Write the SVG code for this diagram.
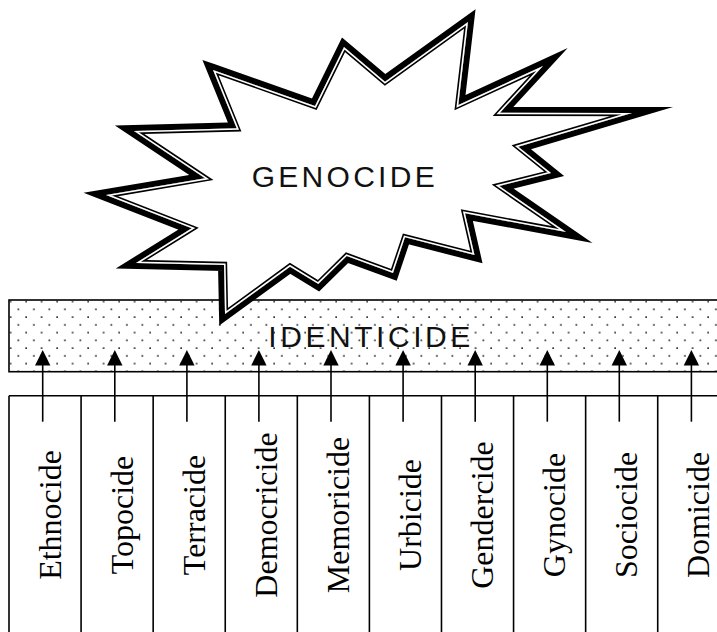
<svg xmlns="http://www.w3.org/2000/svg" xmlns:xlink="http://www.w3.org/1999/xlink" width="717" height="632" viewBox="0 0 717 632">
  <style>
    .frame { fill: none; stroke: #000; stroke-width: 1.6; }
    .arrow { stroke: #000; stroke-width: 1.6; fill: none; }
    .head { fill: #000; }
    .lbl { font-family: "Liberation Serif", "Times New Roman", serif; font-size: 32px; fill: #000; text-anchor: middle; }
    .big { font-family: "Liberation Sans", Arial, sans-serif; font-size: 30px; fill: #111; }
  </style>
  <defs>
    <pattern id="dots" patternUnits="userSpaceOnUse" x="-1.1" y="10.9" width="15.5" height="15.5">
      <rect x="3.2" y="3.2" width="1.6" height="1.6" fill="#222"/>
      <rect x="10.95" y="10.95" width="1.6" height="1.6" fill="#222"/>
    </pattern>
    <polygon id="starP" points="213,70 315,106 344,47 385,81.7 468,22 458.3,105 543,66 500,112.7 632,113 518.3,146.7 551,173 499.3,186 566,232 465,213.3 474.5,255 405,237.3 393,273 346.7,256 318.3,284 290,266.7 225,314 224,265 136,263 191.7,228.3 106,195 205,178.3 134,131 236.7,128.3"/>
    <clipPath id="starClip"><use xlink:href="#starP"/></clipPath>
  </defs>

  <g id="identicide">
    <rect x="9" y="300" width="720" height="71.7" fill="url(#dots)" stroke="#000" stroke-width="1.6"/>
    <text class="big" x="268.3" y="346.5" textLength="202" lengthAdjust="spacing">IDENTICIDE</text>
  </g>

  <g id="genocide">
    <use xlink:href="#starP" fill="#fff" stroke="#000" stroke-width="12" stroke-linejoin="miter" stroke-miterlimit="40"/>
    <use xlink:href="#starP" fill="#fff" stroke="none"/>
    <g clip-path="url(#starClip)">
      <use xlink:href="#starP" fill="none" stroke="#000" stroke-width="6.4" stroke-linejoin="miter" stroke-miterlimit="40"/>
      <use xlink:href="#starP" fill="none" stroke="#fff" stroke-width="3.2" stroke-linejoin="miter" stroke-miterlimit="40"/>
    </g>
    <text class="big" x="251.7" y="186.5" textLength="183" lengthAdjust="spacing">GENOCIDE</text>
  </g>

  <g id="columns">
    <line class="frame" x1="9" y1="395.7" x2="717" y2="395.7"/>
    <line class="frame" x1="9" y1="395.7" x2="9" y2="632"/>
    <line class="frame" x1="81.08" y1="395.7" x2="81.08" y2="632"/>
    <line class="frame" x1="153.16" y1="395.7" x2="153.16" y2="632"/>
    <line class="frame" x1="225.24" y1="395.7" x2="225.24" y2="632"/>
    <line class="frame" x1="297.32" y1="395.7" x2="297.32" y2="632"/>
    <line class="frame" x1="369.4" y1="395.7" x2="369.4" y2="632"/>
    <line class="frame" x1="441.48" y1="395.7" x2="441.48" y2="632"/>
    <line class="frame" x1="513.56" y1="395.7" x2="513.56" y2="632"/>
    <line class="frame" x1="585.64" y1="395.7" x2="585.64" y2="632"/>
    <line class="frame" x1="657.72" y1="395.7" x2="657.72" y2="632"/>
  </g>

  <g id="n-ethnocide"><text class="lbl" transform="translate(60.7,515) rotate(-90)">Ethnocide</text></g>
  <g id="n-topocide"><text class="lbl" transform="translate(132.8,515) rotate(-90)">Topocide</text></g>
  <g id="n-terracide"><text class="lbl" transform="translate(204.9,515) rotate(-90)">Terracide</text></g>
  <g id="n-democricide"><text class="lbl" transform="translate(276.9,515) rotate(-90)">Democricide</text></g>
  <g id="n-memoricide"><text class="lbl" transform="translate(349,515) rotate(-90)">Memoricide</text></g>
  <g id="n-urbicide"><text class="lbl" transform="translate(421.1,515) rotate(-90)">Urbicide</text></g>
  <g id="n-gendercide"><text class="lbl" transform="translate(493.2,515) rotate(-90)">Gendercide</text></g>
  <g id="n-gynocide"><text class="lbl" transform="translate(565.3,515) rotate(-90)">Gynocide</text></g>
  <g id="n-sociocide"><text class="lbl" transform="translate(637.3,515) rotate(-90)">Sociocide</text></g>
  <g id="n-domicide"><text class="lbl" transform="translate(709.4,515) rotate(-90)">Domicide</text></g>

  <g id="connectors">
    <g id="a1"><line class="arrow" x1="42.7" y1="421.7" x2="42.7" y2="362"/><polygon class="head" points="42.7,350 35,365.5 50.4,365.5"/></g>
    <g id="a2"><line class="arrow" x1="114.8" y1="421.7" x2="114.8" y2="362"/><polygon class="head" points="114.8,350 107.1,365.5 122.5,365.5"/></g>
    <g id="a3"><line class="arrow" x1="186.9" y1="421.7" x2="186.9" y2="362"/><polygon class="head" points="186.9,350 179.2,365.5 194.6,365.5"/></g>
    <g id="a4"><line class="arrow" x1="258.9" y1="421.7" x2="258.9" y2="362"/><polygon class="head" points="258.9,350 251.2,365.5 266.6,365.5"/></g>
    <g id="a5"><line class="arrow" x1="331" y1="421.7" x2="331" y2="362"/><polygon class="head" points="331,350 323.3,365.5 338.7,365.5"/></g>
    <g id="a6"><line class="arrow" x1="403.1" y1="421.7" x2="403.1" y2="362"/><polygon class="head" points="403.1,350 395.4,365.5 410.8,365.5"/></g>
    <g id="a7"><line class="arrow" x1="475.2" y1="421.7" x2="475.2" y2="362"/><polygon class="head" points="475.2,350 467.5,365.5 482.9,365.5"/></g>
    <g id="a8"><line class="arrow" x1="547.3" y1="421.7" x2="547.3" y2="362"/><polygon class="head" points="547.3,350 539.6,365.5 555,365.5"/></g>
    <g id="a9"><line class="arrow" x1="619.3" y1="421.7" x2="619.3" y2="362"/><polygon class="head" points="619.3,350 611.6,365.5 627,365.5"/></g>
    <g id="a10"><line class="arrow" x1="691.4" y1="421.7" x2="691.4" y2="362"/><polygon class="head" points="691.4,350 683.7,365.5 699.1,365.5"/></g>
  </g>
</svg>
